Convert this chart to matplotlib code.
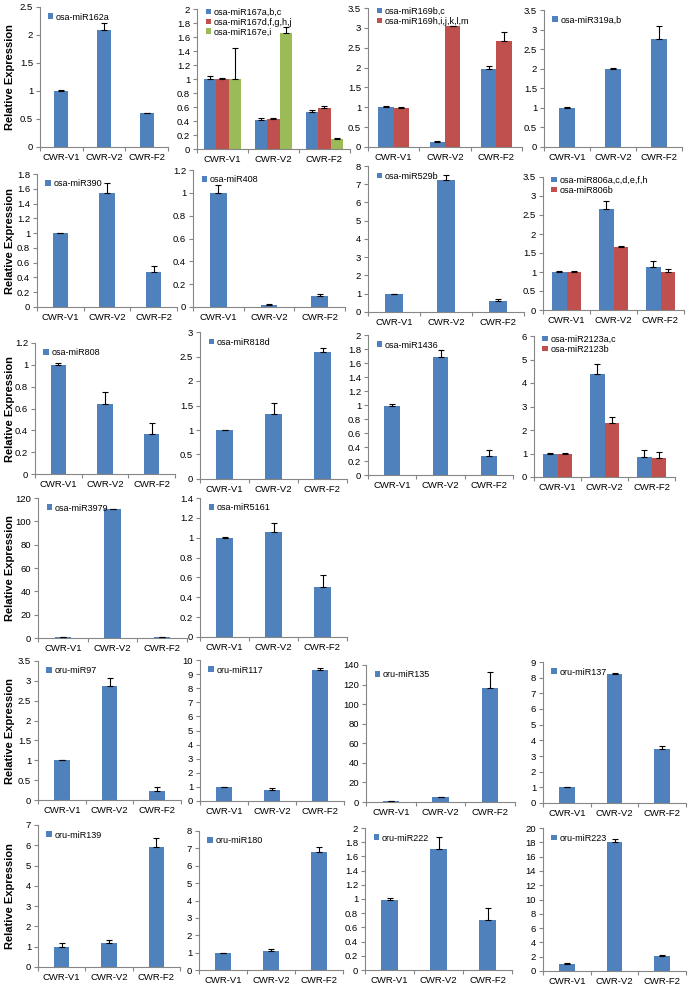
import matplotlib.pyplot as plt
import numpy as np
from matplotlib.ticker import MultipleLocator, FormatStrFormatter

plt.rcParams['font.family'] = ['Liberation Sans', 'DejaVu Sans']

categories = ['CWR-V1', 'CWR-V2', 'CWR-F2']

# mean relative expression and upper error
miR162a = [1.00, 2.09, 0.60]
miR162a_err = [0.01, 0.12, 0.01]
miR167abc = [1.00, 0.41, 0.53]
miR167abc_err = [0.05, 0.04, 0.03]
miR167dfghj = [1.00, 0.43, 0.59]
miR167dfghj_err = [0.01, 0.02, 0.02]
miR167ei = [1.00, 1.66, 0.15]
miR167ei_err = [0.44, 0.08, 0.01]
miR169bc = [1.00, 0.13, 1.96]
miR169bc_err = [0.02, 0.02, 0.07]
miR169hijklm = [0.99, 3.04, 2.66]
miR169hijklm_err = [0.01, 0.01, 0.23]
miR319ab = [1.00, 1.98, 2.76]
miR319ab_err = [0.03, 0.05, 0.32]

miR390 = [1.00, 1.54, 0.48]
miR390_err = [0.005, 0.14, 0.08]
miR408 = [1.00, 0.02, 0.10]
miR408_err = [0.07, 0.01, 0.01]
miR529b = [0.97, 7.22, 0.63]
miR529b_err = [0.03, 0.27, 0.06]
miR806acdefh = [1.00, 2.67, 1.14]
miR806acdefh_err = [0.03, 0.20, 0.14]
miR806b = [1.00, 1.65, 1.00]
miR806b_err = [0.02, 0.03, 0.09]

miR808 = [1.00, 0.64, 0.37]
miR808_err = [0.02, 0.11, 0.10]
miR818d = [0.99, 1.33, 2.59]
miR818d_err = [0.02, 0.23, 0.08]
miR1436 = [0.99, 1.69, 0.27]
miR1436_err = [0.03, 0.09, 0.09]
miR2123ac = [1.00, 4.37, 0.84]
miR2123ac_err = [0.02, 0.44, 0.29]
miR2123b = [1.00, 2.28, 0.80]
miR2123b_err = [0.02, 0.27, 0.25]

miR3979 = [0.8, 110.5, 0.9]
miR3979_err = [0.1, 0.3, 0.3]
miR5161 = [1.00, 1.06, 0.50]
miR5161_err = [0.005, 0.09, 0.12]

oru97 = [1.00, 2.87, 0.22]
oru97_err = [0.01, 0.21, 0.10]
oru117 = [1.00, 0.80, 9.30]
oru117_err = [0.02, 0.15, 0.15]
oru135 = [1.2, 4.8, 117.0]
oru135_err = [0.3, 0.5, 16.0]
oru137 = [1.00, 8.22, 3.47]
oru137_err = [0.04, 0.10, 0.20]

oru139 = [1.00, 1.18, 5.90]
oru139_err = [0.20, 0.14, 0.46]
oru180 = [0.97, 1.12, 6.80]
oru180_err = [0.03, 0.10, 0.30]
oru222 = [0.99, 1.71, 0.71]
oru222_err = [0.02, 0.16, 0.17]
oru223 = [0.95, 18.0, 2.05]
oru223_err = [0.10, 0.40, 0.25]

# y axis max and step for each panel
y_max = [2.5, 2, 3.5, 3.5,
         1.8, 1.2, 8, 3.5,
         1.2, 3, 2, 6,
         120, 1.4,
         3.5, 10, 140, 9,
         7, 8, 2, 20]
y_step = [0.5, 0.2, 0.5, 0.5,
          0.2, 0.2, 1, 0.5,
          0.2, 0.5, 0.2, 1,
          20, 0.2,
          0.5, 1, 20, 1,
          1, 1, 0.2, 2]

panels = [
    [('osa-miR162a', miR162a, miR162a_err)],
    [('osa-miR167a,b,c', miR167abc, miR167abc_err),
     ('osa-miR167d,f,g,h,j', miR167dfghj, miR167dfghj_err),
     ('osa-miR167e,i', miR167ei, miR167ei_err)],
    [('osa-miR169b,c', miR169bc, miR169bc_err),
     ('osa-miR169h,i,j,k,l,m', miR169hijklm, miR169hijklm_err)],
    [('osa-miR319a,b', miR319ab, miR319ab_err)],
    [('osa-miR390', miR390, miR390_err)],
    [('osa-miR408', miR408, miR408_err)],
    [('osa-miR529b', miR529b, miR529b_err)],
    [('osa-miR806a,c,d,e,f,h', miR806acdefh, miR806acdefh_err),
     ('osa-miR806b', miR806b, miR806b_err)],
    [('osa-miR808', miR808, miR808_err)],
    [('osa-miR818d', miR818d, miR818d_err)],
    [('osa-miR1436', miR1436, miR1436_err)],
    [('osa-miR2123a,c', miR2123ac, miR2123ac_err),
     ('osa-miR2123b', miR2123b, miR2123b_err)],
    [('osa-miR3979', miR3979, miR3979_err)],
    [('osa-miR5161', miR5161, miR5161_err)],
    [('oru-miR97', oru97, oru97_err)],
    [('oru-miR117', oru117, oru117_err)],
    [('oru-miR135', oru135, oru135_err)],
    [('oru-miR137', oru137, oru137_err)],
    [('oru-miR139', oru139, oru139_err)],
    [('oru-miR180', oru180, oru180_err)],
    [('oru-miR222', oru222, oru222_err)],
    [('oru-miR223', oru223, oru223_err)],
]

# axes boxes in pixels: left, right, top (y max), bottom (y = 0)
boxes = [
    (40, 168, 7, 147), (197, 350, 9, 149), (368, 522, 8, 147), (544, 682, 10, 147),
    (37, 177, 174, 307), (193, 345, 170, 307), (368, 524, 166, 312), (543, 684, 177, 310),
    (35, 175, 343, 474), (200, 347, 332, 479), (368, 513, 335, 475), (534, 675, 336, 477),
    (38, 187, 498, 638), (200, 347, 498, 637),
    (38, 181, 661, 800), (200, 344, 660, 801), (366, 515, 665, 802), (543, 686, 662, 803),
    (38, 180, 825, 967), (199, 343, 831, 970), (365, 512, 828, 970), (543, 686, 828, 971),
]
first_col = [0, 4, 8, 12, 14, 18]

colors = ['#4F81BD', '#C0504D', '#9BBB59']
bar_w = {1: 0.33, 2: 0.3, 3: 0.24}

W, H = 689, 986
fig = plt.figure(figsize=(W / 100, H / 100), dpi=100)

x = np.arange(len(categories))
for i, series in enumerate(panels):
    l, r, t, b = boxes[i]
    ax = fig.add_axes([l / W, 1 - b / H, (r - l) / W, (b - t) / H])
    n = len(series)
    w = bar_w[n]
    for k, (name, vals, err) in enumerate(series):
        pos = x + (k - (n - 1) / 2) * w
        ax.bar(pos, vals, w, color=colors[k], label=name, zorder=2)
        ax.errorbar(pos, vals, yerr=[np.zeros(len(err)), err], fmt='none',
                    ecolor='black', elinewidth=0.8, capsize=2, capthick=0.8, zorder=3)
    ax.set_xlim(-0.5, 2.5)
    ax.set_ylim(0, y_max[i])
    ax.yaxis.set_major_locator(MultipleLocator(y_step[i]))
    ax.yaxis.set_major_formatter(FormatStrFormatter('%g'))
    ax.set_xticks(x)
    ax.set_xticklabels(categories)
    ax.set_xticks([-0.5, 0.5, 1.5, 2.5], minor=True)
    ax.tick_params(axis='x', which='major', length=0, labelsize=6.8, pad=4)
    ax.tick_params(axis='x', which='minor', length=3, color='#868686', width=0.8)
    ax.tick_params(axis='y', length=3, color='#868686', width=0.8, labelsize=6.8, pad=2)
    for s in ['top', 'right']:
        ax.spines[s].set_visible(False)
    for s in ['left', 'bottom']:
        ax.spines[s].set_color('#868686')
        ax.spines[s].set_linewidth(0.8)
    # legends with several entries sit closer to the top of the axes
    anchor_y = 1.0 + 4 / (b - t) if n > 1 else 0.98
    ax.legend(loc='upper left', bbox_to_anchor=(0.04, anchor_y), frameon=False,
              fontsize=6.5, handlelength=0.6, handleheight=0.6, handletextpad=0.3,
              labelspacing=0.1, borderaxespad=0.2, borderpad=0.1)
    if i in first_col:
        fig.text(10 / W, 1 - (t + b) / 2 / H, 'Relative Expression', rotation=90,
                 ha='center', va='center', fontsize=8, fontweight='bold')

fig.savefig('out.png', dpi=100)
